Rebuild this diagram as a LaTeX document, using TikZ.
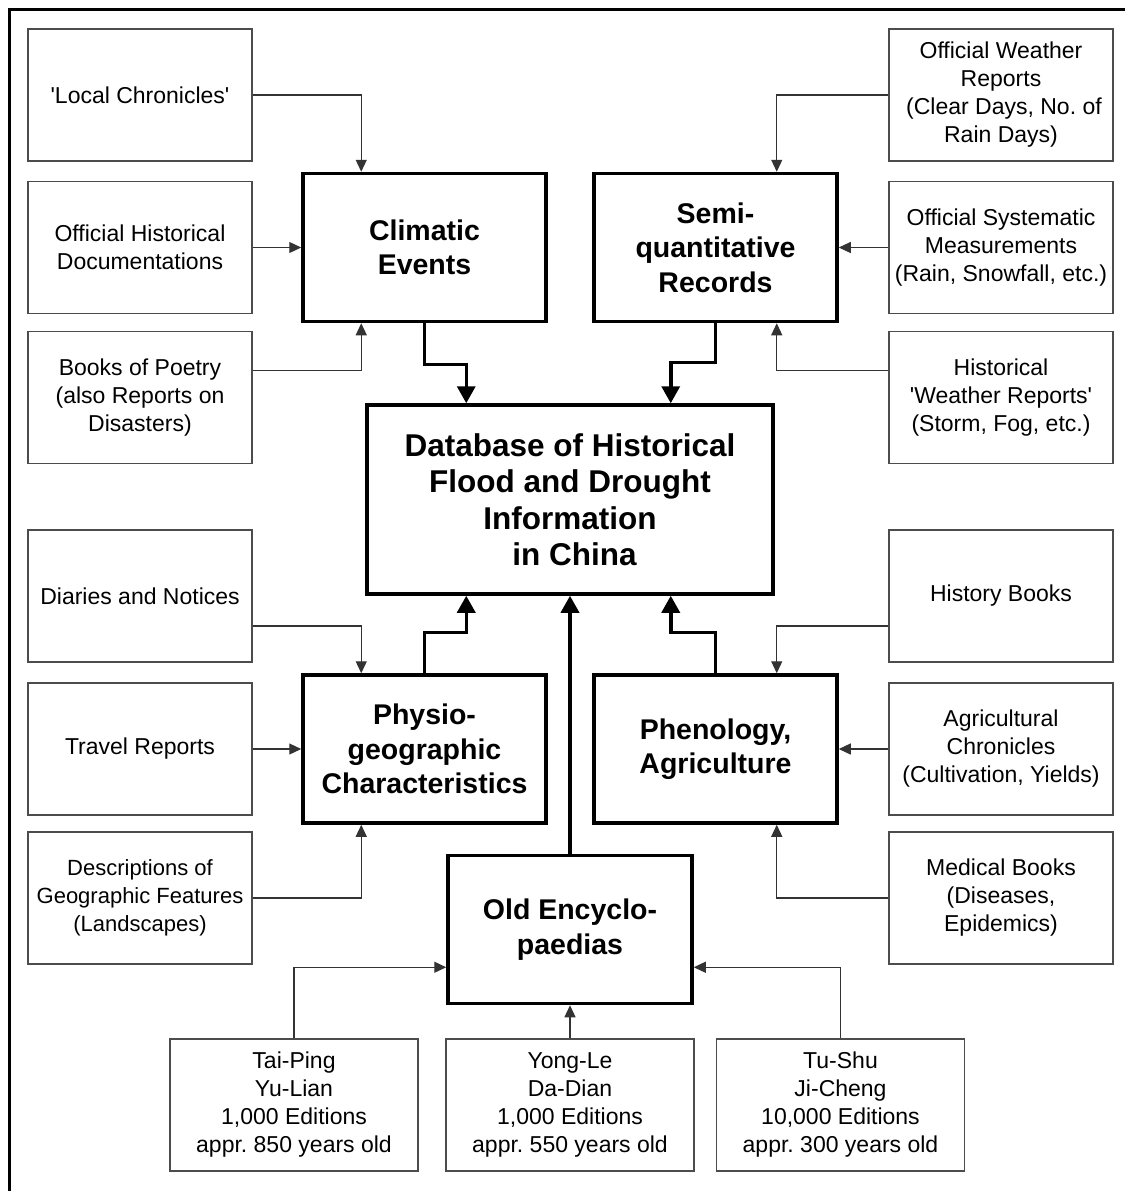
\documentclass[tikz,border=0pt]{standalone}
\usepackage{fontspec}
\setmainfont{Liberation Sans}
\frenchspacing
\usetikzlibrary{calc}
\usetikzlibrary{arrows.meta}

\begin{document}
\begin{tikzpicture}[x=1pt, y=-1pt,
 src/.style={draw=black!70, line width=1.3pt, minimum width=224pt, minimum height=132pt, inner sep=0, align=center, font=\fontsize{23}{28}\selectfont},
 hub/.style={draw, line width=3.5pt, minimum width=243pt, minimum height=148pt, inner sep=0, align=center, font=\bfseries\fontsize{28.5}{34.5}\selectfont},
 feed/.style={draw=black!80, line width=1.2pt, ->, >={Triangle[length=12pt, width=11pt]}},
 main/.style={draw, line width=3.5pt, ->, >={Triangle[length=17pt, width=18pt]}}]
\useasboundingbox (0,0) rectangle (1125,1191);
\draw[line width=3pt] (9,1191) -- (9,9) -- (1125,9);

\node[src] (lc) at (140,95) {\textquotesingle Local Chronicles\textquotesingle};
\node[src] (oh) at (140,247.5) {Official Historical\\Documentations};
\node[src] (bp) at (140,397.5) {Books of Poetry\\(also Reports on\\Disasters)};
\node[src] (di) at (140,596) {Diaries and Notices};
\node[src] (tr) at (140,749) {Travel Reports};
\node[src, font=\fontsize{22}{28}\selectfont] (dg) at (140,898) {Descriptions of\\Geographic Features\\(Landscapes)};
\node[src] (ow) at (1001,95) {Official Weather\\Reports\\\hspace*{6pt}(Clear Days, No. of\\Rain Days)};
\node[src] (os) at (1001,247.5) {Official Systematic\\Measurements\\(Rain, Snowfall, etc.)};
\node[src] (hw) at (1001,397.5) {Historical\\\textquotesingle Weather Reports\textquotesingle\\(Storm, Fog, etc.)};
\node[src] (hb) at (1001,596) {History Books};
\node[src] (ac) at (1001,749) {Agricultural\\Chronicles\\(Cultivation, Yields)};
\node[src] (mb) at (1001,898) {Medical Books\\(Diseases,\\Epidemics)};

\node[hub] (ce) at (424.5,247.5) {Climatic\\Events};
\node[hub] (sq) at (715.5,247.5) {Semi-\\quantitative\\Records};
\node[hub] (pg) at (424.5,749) {Physio-\\geographic\\Characteristics};
\node[hub] (pa) at (715.5,749) {Phenology,\\Agriculture};
\node[hub, minimum width=406pt, minimum height=189pt, font=\bfseries\fontsize{31.5}{36.5}\selectfont] (db) at (570,499.5) {Database of Historical\\Flood and Drought\\Information\\\hspace*{9pt}in China};
\node[hub, minimum width=244pt] (oe) at (570,929.5) {Old Encyclo-\\paedias};

\foreach \n/\x/\t in {tp/294/{Tai-Ping\\Yu-Lian\\1,000 Editions\\appr. 850 years old},
  yl/570/{Yong-Le\\Da-Dian\\1,000 Editions\\appr. 550 years old},
  ts/840.5/{Tu-Shu\\Ji-Cheng\\10,000 Editions\\appr. 300 years old}}
  \node[src, minimum width=248pt] (\n) at (\x,1105) {\t};

\draw[feed] (lc.east) -| ([xshift=60pt]ce.north west);
\draw[feed] (oh.east) -- (ce.west);
\draw[feed] ([yshift=27pt]bp.east) -| ([xshift=60pt]ce.south west);
\draw[feed] (ow.west) -| ([xshift=-62pt]sq.north east);
\draw[feed] (os.west) -- (sq.east);
\draw[feed] ([yshift=27pt]hw.west) -| ([xshift=-62pt]sq.south east);
\draw[feed] ([yshift=-30pt]di.east) -| ([xshift=60pt]pg.north west);
\draw[feed] (tr.east) -- (pg.west);
\draw[feed] (dg.east) -| ([xshift=60pt]pg.south west);
\draw[feed] ([yshift=-30pt]hb.west) -| ([xshift=-62pt]pa.north east);
\draw[feed] (ac.west) -- (pa.east);
\draw[feed] (mb.west) -| ([xshift=-62pt]pa.south east);
\draw[feed] (tp.north) |- ([yshift=38pt]oe.south west);
\draw[feed] (yl.north) -- (oe.south);
\draw[feed] (ts.north) |- ([yshift=38pt]oe.south east);

\draw[main] (ce.south) -- ++(0,41) -| ([xshift=101pt]db.north west);
\draw[main] (sq.south) -- ++(0,39) -| ([xshift=-104pt]db.north east);
\draw[main] (pg.north) -- ++(0,-41) -| ([xshift=101pt]db.south west);
\draw[main] (pa.north) -- ++(0,-41) -| ([xshift=-104pt]db.south east);
\draw[main] (oe.north) -- (db.south);
\end{tikzpicture}
\end{document}
